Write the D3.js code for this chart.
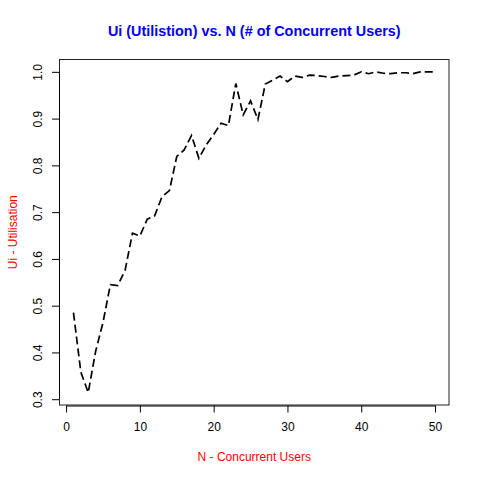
<!DOCTYPE html>
<html>
<head>
<meta charset="utf-8">
<script src="https://cdn.jsdelivr.net/npm/d3@7"></script>
<style>
  html, body { margin: 0; padding: 0; background: #fff; }
  svg { display: block; font-family: "Liberation Sans", Arial, Helvetica, sans-serif; }
</style>
</head>
<body>
<svg id="chart" width="480" height="480"></svg>
<script>
const users = d3.range(1, 51);
const utilisation = [
  0.485, 0.358, 0.314, 0.402, 0.464, 0.545, 0.543, 0.576, 0.655, 0.649,
  0.685, 0.692, 0.733, 0.746, 0.819, 0.833, 0.864, 0.815, 0.844, 0.866,
  0.890, 0.885, 0.975, 0.908, 0.938, 0.898, 0.974, 0.982, 0.991, 0.979,
  0.991, 0.988, 0.993, 0.992, 0.990, 0.988, 0.991, 0.992, 0.993, 1.000,
  0.996, 1.000, 0.997, 0.996, 0.998, 0.998, 0.996, 1.000, 1.000, 1.000
];
const xTicks = [0, 10, 20, 30, 40, 50];
const yTicks = [0.3, 0.4, 0.5, 0.6, 0.7, 0.8, 0.9, 1.0];
const titleText = "Ui (Utilistion) vs. N (# of Concurrent Users)";
const xLabel = "N - Concurrent Users";
const yLabel = "Ui - Utilisation";

const svg = d3.select("#chart");
const pLeft = 59, pRight = 449.5, pTop = 59, pBottom = 405.5;

function pad(ext) { const r = ext[1] - ext[0]; return [ext[0] - 0.04 * r, ext[1] + 0.04 * r]; }

const x = d3.scaleLinear().domain(pad(d3.extent(users))).range([pLeft, pRight]);
const y = d3.scaleLinear().domain(pad(d3.extent(utilisation))).range([pBottom, pTop]);

// box
svg.append("rect")
  .attr("x", pLeft + 0.5).attr("y", pTop + 0.5)
  .attr("width", pRight - pLeft - 1).attr("height", pBottom - pTop - 1)
  .attr("fill", "none").attr("stroke", "#222").attr("stroke-width", 1);

// x axis
const xAxis = d3.axisBottom(x).tickValues(xTicks).tickSize(7).tickPadding(10)
  .tickFormat(d3.format("d"));
const gx = svg.append("g").attr("transform", `translate(0,${pBottom})`).call(xAxis);
gx.select(".domain").attr("d", `M${x(xTicks[0])},0.5H${x(xTicks[xTicks.length-1])}`);
gx.selectAll("text").attr("font-size", 12).attr("fill", "#000")
  .attr("font-family", '"Liberation Sans", Arial, sans-serif');

// y axis
const yAxis = d3.axisLeft(y).tickValues(yTicks).tickSize(7).tickPadding(0)
  .tickFormat(d3.format(".1f"));
const gy = svg.append("g").attr("transform", `translate(${pLeft},0)`).call(yAxis);
gy.select(".domain").attr("d", `M0.5,${y(yTicks[0])}V${y(yTicks[yTicks.length-1])}`);
gy.selectAll(".tick text")
  .attr("x", null).attr("dy", null)
  .attr("transform", "translate(-17,0) rotate(-90)")
  .attr("text-anchor", "middle")
  .attr("font-size", 12).attr("fill", "#000")
  .attr("font-family", '"Liberation Sans", Arial, sans-serif');

// line
const line = d3.line().x((d, i) => x(users[i])).y(d => y(d));
svg.append("path")
  .datum(utilisation)
  .attr("d", line)
  .attr("fill", "none")
  .attr("stroke", "#000")
  .attr("stroke-width", 1.7)
  .attr("stroke-dasharray", "8,4");

// title
svg.append("text")
  .attr("x", (pLeft + pRight) / 2).attr("y", 36)
  .attr("text-anchor", "middle")
  .attr("font-size", 14.4).attr("font-weight", "bold")
  .attr("fill", "#0000ff")
  .text(titleText);

// x label
svg.append("text")
  .attr("x", (pLeft + pRight) / 2).attr("y", 461)
  .attr("text-anchor", "middle")
  .attr("font-size", 12).attr("fill", "#ff0000")
  .text(xLabel);

// y label
svg.append("text")
  .attr("transform", `translate(17,${(pTop + pBottom) / 2}) rotate(-90)`)
  .attr("text-anchor", "middle")
  .attr("font-size", 12).attr("fill", "#ff0000")
  .text(yLabel);
</script>
</body>
</html>
